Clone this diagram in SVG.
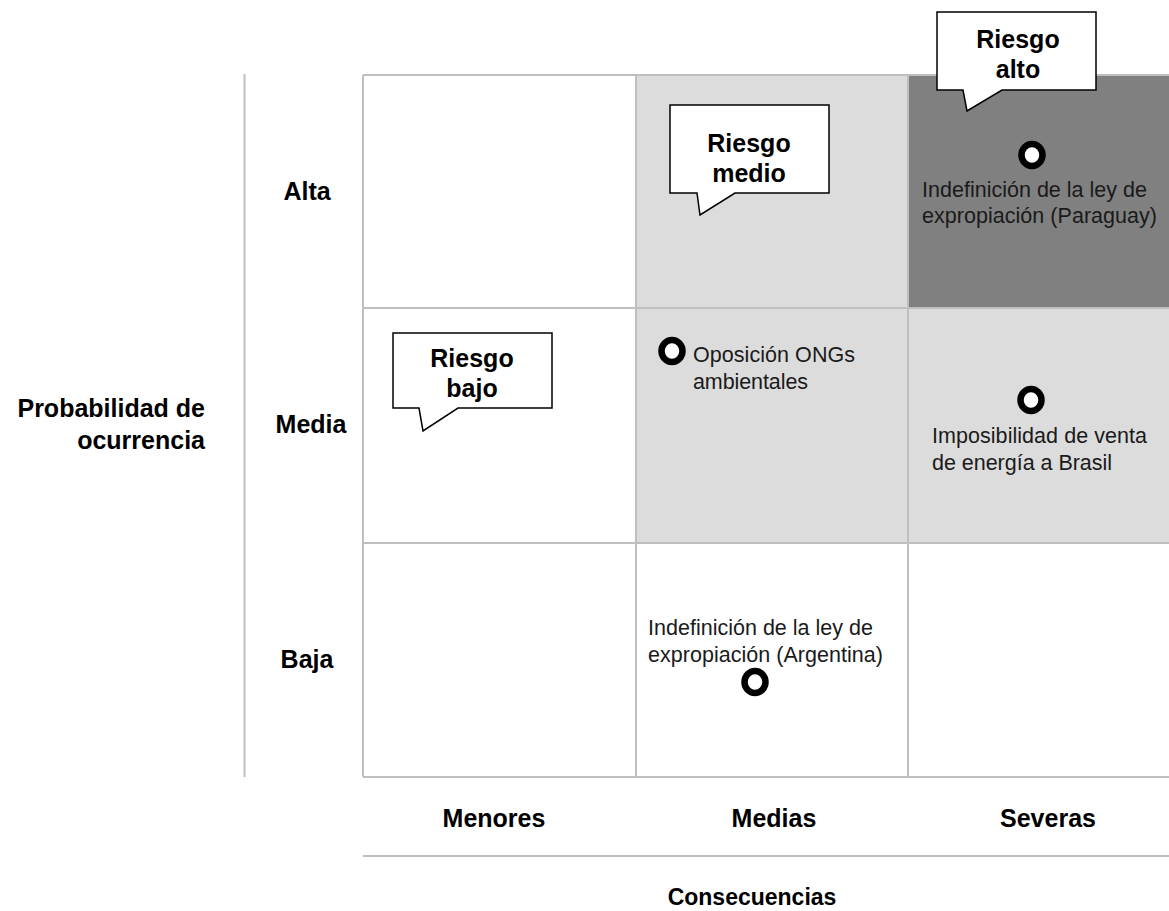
<svg xmlns="http://www.w3.org/2000/svg" width="1169" height="911" viewBox="0 0 1169 911">
<style>
.grid{stroke:#bfbfbf;stroke-width:2;fill:none}
.b{font-family:"Liberation Sans",Arial,sans-serif;font-weight:bold;font-size:25px;fill:#000}
.lbl{font-family:"Liberation Sans",Arial,sans-serif;font-size:21.5px;fill:#1a1a1a}
.callout{fill:#fff;stroke:#000;stroke-width:1.5;stroke-linejoin:miter}
.ring{fill:#fff;stroke:#000;stroke-width:6.5}
</style>
<rect width="1169" height="911" fill="#fff"/>
<g id="matrix">
<rect x="636" y="75" width="272" height="233" fill="#dcdcdc"/>
<rect x="908" y="75" width="272" height="233" fill="#808080"/>
<rect x="636" y="308" width="272" height="235" fill="#dcdcdc"/>
<rect x="908" y="308" width="272" height="235" fill="#dcdcdc"/>
<path class="grid" d="M363,75 H1180 M363,308 H1180 M363,543 H1180 M363,777 H1180 M363,75 V777 M636,75 V777 M908,75 V777"/>
</g>
<g id="axes">
<line class="grid" x1="244.5" y1="74" x2="244.5" y2="777"/>
<line class="grid" x1="363" y1="856" x2="1169" y2="856"/>
</g>
<g id="row-labels">
<text class="b" x="307" y="200" text-anchor="middle">Alta</text>
<text class="b" x="311" y="433" text-anchor="middle">Media</text>
<text class="b" x="307" y="668" text-anchor="middle">Baja</text>
<text class="b" x="205" y="417" text-anchor="end">Probabilidad de</text>
<text class="b" x="205" y="449" text-anchor="end">ocurrencia</text>
</g>
<g id="col-labels">
<text class="b" x="494" y="827" text-anchor="middle">Menores</text>
<text class="b" x="774" y="827" text-anchor="middle">Medias</text>
<text class="b" x="1048" y="827" text-anchor="middle">Severas</text>
<text class="b" x="752" y="905" text-anchor="middle" style="font-size:23px">Consecuencias</text>
</g>
<g id="callout-alto">
<path class="callout" d="M937,12 H1096 V90 H1002 L967,111 L963,90 H937 Z"/>
<text class="b" x="1018" y="48" text-anchor="middle">Riesgo</text>
<text class="b" x="1018" y="78" text-anchor="middle">alto</text>
</g>
<g id="callout-medio">
<path class="callout" d="M670,105 H829 V193 H735 L700,215 L697,193 H670 Z"/>
<text class="b" x="749" y="152" text-anchor="middle">Riesgo</text>
<text class="b" x="749" y="182" text-anchor="middle">medio</text>
</g>
<g id="callout-bajo">
<path class="callout" d="M393,333 H552 V408 H458 L423,431 L419,408 H393 Z"/>
<text class="b" x="472" y="367" text-anchor="middle">Riesgo</text>
<text class="b" x="472" y="397" text-anchor="middle">bajo</text>
</g>
<g id="risk-paraguay">
<ellipse class="ring" cx="1032" cy="155" rx="10.5" ry="11"/>
<text class="lbl" x="922" y="197" textLength="225">Indefinición de la ley de</text>
<text class="lbl" x="922" y="223" textLength="235">expropiación (Paraguay)</text>
</g>
<g id="risk-ongs">
<ellipse class="ring" cx="672" cy="351" rx="10.5" ry="11"/>
<text class="lbl" x="693" y="362" textLength="162">Oposición ONGs</text>
<text class="lbl" x="693" y="389" textLength="115">ambientales</text>
</g>
<g id="risk-brasil">
<ellipse class="ring" cx="1031" cy="400" rx="10.5" ry="11"/>
<text class="lbl" x="932" y="443" textLength="215">Imposibilidad de venta</text>
<text class="lbl" x="932" y="470" textLength="180">de energía a Brasil</text>
</g>
<g id="risk-argentina">
<text class="lbl" x="648" y="635" textLength="225">Indefinición de la ley de</text>
<text class="lbl" x="648" y="662" textLength="235">expropiación (Argentina)</text>
<ellipse class="ring" cx="755" cy="682" rx="10.5" ry="11"/>
</g>
</svg>
